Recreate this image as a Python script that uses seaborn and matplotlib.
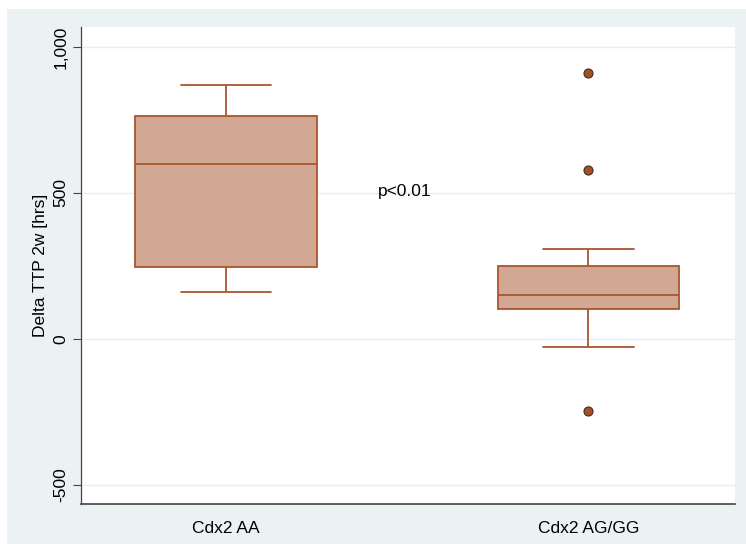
import pandas as pd
import matplotlib.pyplot as plt
import seaborn as sns
from matplotlib.patches import Rectangle

# data (hours)
groups = ["Cdx2 AA", "Cdx2 AG/GG"]
aa_values = [161, 247, 599, 764, 870]
ag_gg_values = [-247, -27, 60, 103, 120, 140, 151, 180, 220, 250, 308, 579, 911]
y_ticks = [-500, 0, 500, 1000]
y_tick_labels = ["-500", "0", "500", "1,000"]

df = pd.DataFrame({
    "group": [groups[0]] * len(aa_values) + [groups[1]] * len(ag_gg_values),
    "delta": aa_values + ag_gg_values,
})

bg = "#EAF2F3"
fill = "#D0A894"
edge = "#A9552E"

sns.set_style("white")
plt.rcParams["font.family"] = ["Liberation Sans", "DejaVu Sans"]
plt.rcParams["text.color"] = "black"
plt.rcParams["axes.labelcolor"] = "black"
plt.rcParams["xtick.color"] = "black"
plt.rcParams["ytick.color"] = "black"

fig = plt.figure(figsize=(7.46, 5.44), dpi=100)
fig.patch.set_facecolor("white")
fig.patches.append(Rectangle((7 / 746, 0), 1, 1 - 9 / 544, transform=fig.transFigure,
                             facecolor=bg, edgecolor="none", zorder=-10))
ax = fig.add_axes([81 / 746, 1 - 504 / 544, (735 - 81) / 746, (504 - 27) / 544])
ax.set_facecolor("white")

sns.boxplot(data=df, x="group", y="delta", order=groups, width=0.5, whis=1.5,
            color=fill, linecolor=edge, linewidth=1.3, saturation=1,
            flierprops=dict(marker="o", markerfacecolor="#A0502A",
                            markeredgecolor="#4A2A1A", markersize=6.5, markeredgewidth=0.8),
            ax=ax)

ax.set_xlim(-0.4, 1.405)
ax.set_ylim(-565, 1068)
ax.set_yticks(y_ticks)
ax.set_yticklabels(y_tick_labels, rotation=90, va="center", fontsize=12.5)
ax.tick_params(axis="y", left=True, length=6, width=0.8, color="#444444", pad=3)
ax.tick_params(axis="x", bottom=False, labelsize=12.5, pad=9)
for y in y_ticks:
    ax.axhline(y, color="#E6EEF2", linewidth=1, zorder=0)

for side in ["top", "right"]:
    ax.spines[side].set_visible(False)
ax.spines["left"].set_color("#444444")
ax.spines["bottom"].set_color("#444444")
ax.spines["left"].set_linewidth(0.9)
ax.spines["bottom"].set_linewidth(1.2)

ax.text(0.42, 505, "p<0.01", fontsize=12.5, va="center", ha="left")
ax.set_xlabel("")
ax.set_ylabel("Delta TTP 2w [hrs]", fontsize=12.5, labelpad=4)

plt.savefig("out.png", dpi=100, facecolor=fig.get_facecolor())
